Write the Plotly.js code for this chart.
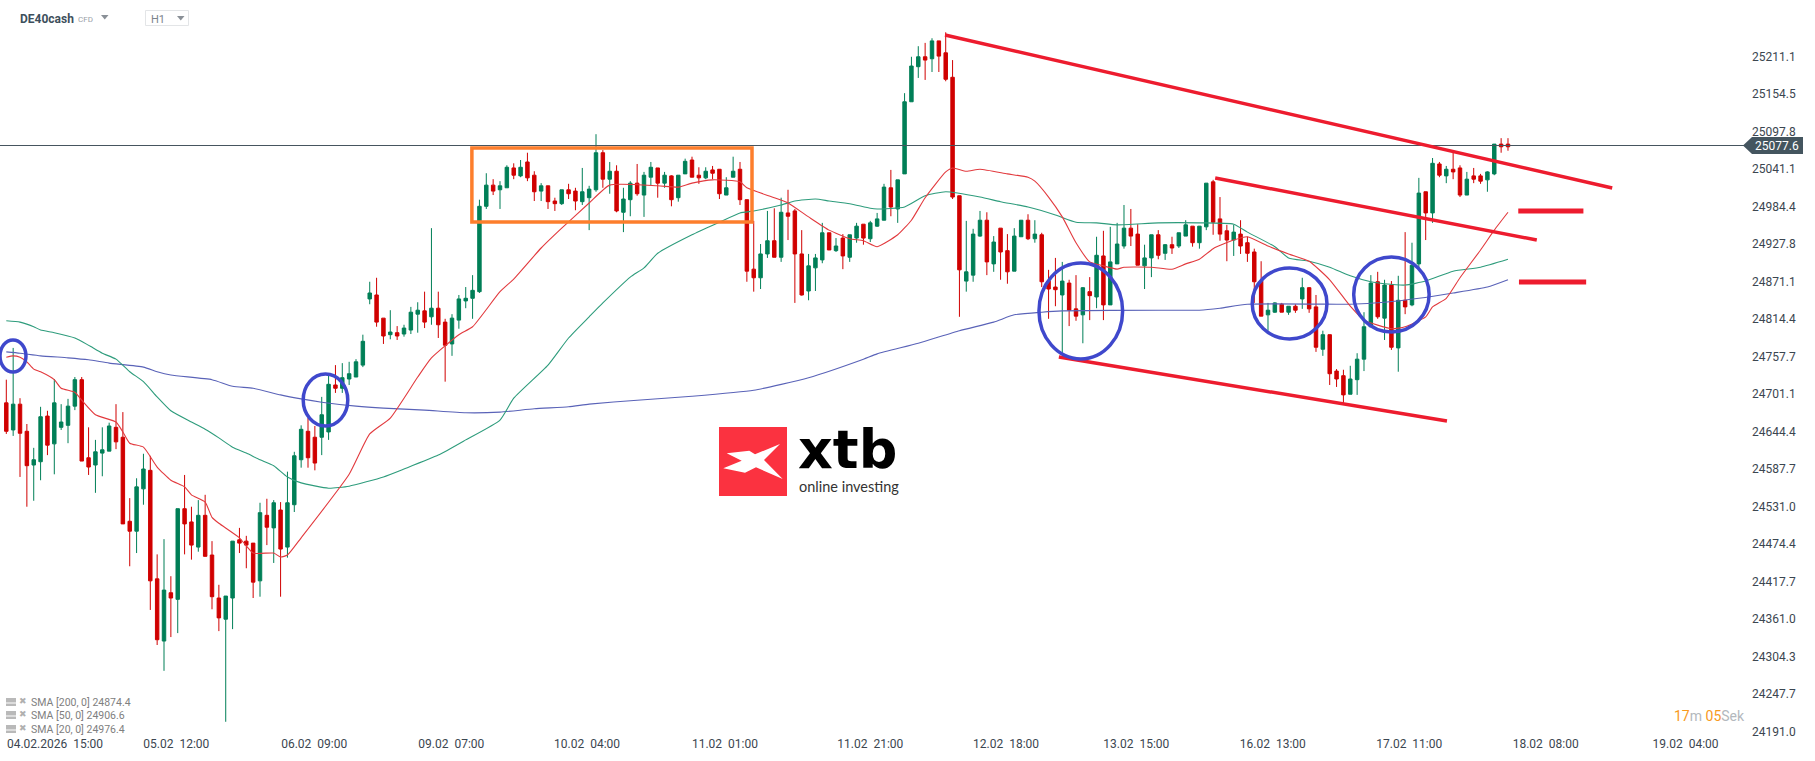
<!DOCTYPE html>
<html><head><meta charset="utf-8">
<script src="https://cdn.plot.ly/plotly-3.0.1.min.js"></script>
<style>html,body{margin:0;padding:0;background:#fff;overflow:hidden}#chart{width:1815px;height:761px}</style>
</head><body><div id="chart"></div>
<script>
const candleOpen=[24688,24647,24686,24645,24594,24599,24668,24626,24651,24654,
24683,24723,24605,24594,24612,24615,24651,24636,24509,24494,
24558,24586,24422,24328,24401,24391,24528,24508,24470,24518,
24458,24393,24361,24393,24481,24479,24476,24419,24518,24499,
24526,24470,24534,24602,24645,24636,24636,24644,24715,24710,
24724,24727,24745,24845,24851,24816,24791,24794,24792,24798,
24822,24827,24818,24831,24810,24777,24813,24842,24846,24856,
24985,25017,25010,25013,25043,25031,25052,25032,25008,25016,
24993,24989,25010,25008,24992,24998,25010,25066,25026,25038,
24976,24995,25020,25002,25029,25043,25020,25031,24998,25034,
25055,25032,25028,25040,25041,25002,25029,25041,24995,24890,
24877,24913,24933,24908,24975,24978,24913,24857,24892,24904,
24945,24918,24937,24908,24937,24958,24936,24955,24964,25013,
24981,25034,25143,25196,25211,25208,25235,25217,25180,25001,
24872,24881,24940,24964,24898,24952,24918,24887,24939,24964,
24936,24942,24872,24863,24851,24869,24830,24821,24856,24848,
24910,24836,24898,24925,24952,24943,24895,24907,24942,24914,
24927,24925,24940,24955,24930,24954,25022,24966,24948,24934,
24943,24930,24916,24872,24821,24825,24837,24825,24834,24845,
24862,24833,24769,24791,24736,24729,24701,24723,24754,24803,
24871,24816,24866,24771,24843,24836,24898,25007,24975,25049,
25031,25041,25043,25002,25031,25031,25025,25034,25079,25079];
const candleClose=[24645,24686,24642,24593,24602,24667,24624,24688,24659,24683,
24723,24600,24591,24614,24617,24653,24629,24505,24494,24561,
24588,24419,24330,24405,24393,24528,24505,24473,24518,24456,
24395,24363,24396,24479,24476,24473,24417,24522,24500,24537,
24467,24537,24608,24648,24605,24597,24670,24716,24710,24726,
24732,24750,24781,24854,24810,24789,24795,24789,24801,24825,
24828,24810,24831,24806,24775,24816,24845,24846,24858,24985,
25017,25008,25016,25044,25032,25044,25028,25007,25016,24992,
24989,25010,25004,24993,25007,25011,25066,25026,25038,24978,
24996,25020,25004,25032,25044,25020,25032,24995,25032,25053,
25029,25028,25038,25035,25004,25013,25038,24995,24887,24877,
24913,24933,24908,24976,24970,24913,24851,24895,24907,24945,
24919,24925,24910,24942,24955,24937,24960,24966,25014,24984,
25025,25143,25197,25211,25206,25235,25212,25177,24999,24889,
24886,24943,24964,24901,24931,24916,24886,24940,24964,24936,
24943,24871,24860,24859,24872,24828,24819,24862,24850,24911,
24836,24901,24928,24952,24940,24896,24907,24942,24911,24927,
24922,24945,24957,24930,24955,25020,24961,24943,24934,24946,
24925,24914,24871,24819,24828,24839,24825,24834,24828,24862,
24830,24772,24791,24732,24724,24700,24724,24754,24803,24869,
24818,24866,24772,24843,24833,24896,25005,24975,25050,25032,
25041,25037,25002,25026,25026,25023,25037,25079,25075,25075];
const candleHigh=[24723,24771,24695,24656,24620,24682,24676,24724,24686,24694,
24727,24727,24651,24632,24651,24658,24686,24674,24544,24574,
24611,24608,24459,24482,24426,24528,24579,24531,24541,24549,
24479,24413,24396,24479,24499,24487,24476,24537,24543,24541,
24538,24584,24614,24654,24665,24653,24697,24729,24745,24748,
24750,24754,24791,24871,24877,24816,24828,24804,24806,24833,
24840,24856,24952,24856,24815,24822,24851,24863,24881,24995,
25035,25026,25023,25047,25050,25055,25066,25038,25020,25016,
24998,25010,25019,25013,25043,25016,25094,25070,25052,25047,
25013,25023,25049,25037,25052,25043,25037,25032,25032,25057,
25060,25044,25044,25046,25041,25029,25060,25052,24995,24963,
24928,24978,24982,24998,25010,24981,24949,24913,24913,24960,
24945,24937,24943,24942,24960,24958,24963,24975,25019,25040,
25025,25156,25211,25227,25232,25239,25235,25248,25206,25001,
24963,24951,24978,24976,24940,24952,24943,24952,24964,24973,
24964,24945,24889,24907,24901,24874,24881,24863,24878,24939,
24948,24954,24960,24987,24981,24958,24927,24942,24949,24928,
24939,24945,24964,24955,24955,25020,25025,24999,24957,24957,
24964,24939,24921,24902,24839,24840,24839,24834,24837,24877,
24863,24851,24797,24791,24739,24738,24744,24763,24825,24881,
24886,24874,24872,24880,24946,24930,25028,25007,25058,25052,
25046,25066,25047,25037,25043,25034,25038,25079,25088,25088];
const candleLow=[24641,24638,24576,24531,24540,24571,24609,24580,24647,24627,
24677,24600,24579,24552,24577,24615,24618,24505,24441,24461,
24534,24375,24322,24283,24334,24340,24459,24451,24463,24456,
24376,24343,24206,24346,24461,24438,24393,24395,24473,24446,
24395,24454,24523,24590,24590,24586,24609,24632,24703,24703,
24715,24727,24742,24837,24803,24777,24784,24783,24788,24792,
24794,24801,24806,24786,24720,24759,24800,24831,24815,24854,
24981,25002,24981,25013,25026,25029,25023,24993,24993,24981,
24978,24987,24996,24979,24987,24949,25007,25013,25004,24976,
24946,24970,25001,24969,25016,24998,25013,24985,24992,25034,
25029,25019,25026,25026,24996,25002,25029,24987,24871,24856,
24860,24907,24908,24901,24934,24839,24850,24843,24857,24899,
24919,24916,24890,24901,24930,24927,24931,24954,24964,24970,
24960,25034,25143,25179,25176,25188,25188,25174,24996,24818,
24856,24871,24939,24881,24886,24874,24868,24887,24939,24934,
24930,24863,24815,24834,24763,24804,24812,24778,24813,24831,
24813,24836,24898,24921,24925,24896,24860,24878,24905,24904,
24913,24922,24940,24924,24921,24949,24942,24933,24902,24910,
24913,24901,24839,24819,24797,24824,24825,24821,24824,24830,
24824,24765,24759,24715,24712,24686,24701,24700,24736,24803,
24815,24783,24768,24735,24822,24834,24890,24934,24960,25029,
25020,25026,24999,25002,25020,25019,25007,25032,25066,25069];
const candleIndex=candleOpen.map((_,i)=>i);

const sma200Index=[0,2,5,9,12,15,20,22,24,30,33,36,40,43,46,51,55,61,67,72,77,82,85,92,100,109,117,125,127,133,139,144,147,151,154,168,174,177,181,194,196,201,206,211,216,219];
const sma200Value=[24765,24763,24759,24756,24753,24748,24742,24735,24730,24723,24713,24710,24700,24694,24689,24683,24680,24677,24673,24674,24679,24682,24686,24692,24698,24707,24726,24754,24762,24778,24797,24810,24821,24825,24827,24828,24828,24831,24837,24837,24837,24840,24846,24854,24863,24874];

const sma50Index=[0,2,4,5,7,10,12,14,16,18,20,22,24,27,29,31,33,35,37,39,41,43,47,50,55,58,63,67,72,74,79,82,85,87,91,93,95,100,104,107,109,113,115,118,120,123,126,127,131,134,137,142,145,149,153,156,159,162,168,174,179,181,185,187,190,193,196,199,201,204,207,211,215,219];
const sma50Value=[24812,24810,24803,24798,24794,24786,24775,24763,24754,24735,24720,24697,24676,24659,24648,24635,24621,24612,24602,24593,24576,24567,24559,24562,24576,24588,24609,24632,24662,24695,24745,24786,24818,24839,24878,24892,24914,24942,24961,24975,24978,24987,24993,24996,24993,24989,24982,24981,24984,25001,25007,24999,24992,24984,24972,24961,24960,24957,24960,24960,24958,24946,24924,24907,24902,24893,24880,24871,24868,24866,24872,24887,24893,24905];

const sma20Index=[0,1,2,3,4,5,7,8,10,11,13,16,17,18,20,22,24,26,27,29,30,31,34,36,39,40,41,43,50,53,56,60,62,66,68,72,74,78,81,85,88,95,98,100,103,107,108,112,114,117,120,123,125,127,130,132,134,137,138,140,142,146,149,150,152,154,156,158,160,162,163,167,170,172,174,176,179,181,184,187,190,193,196,198,202,204,207,208,210,212,215,217,219];
const sma20Value=[24757,24759,24757,24750,24739,24735,24723,24710,24704,24692,24670,24659,24644,24627,24621,24591,24571,24561,24549,24538,24515,24506,24484,24461,24461,24455,24458,24484,24580,24641,24665,24727,24756,24791,24803,24856,24875,24922,24952,24990,25017,25016,25014,25020,25025,25022,25013,24998,24990,24969,24949,24936,24933,24924,24942,24964,24998,25037,25043,25038,25041,25034,25029,25023,24999,24969,24930,24901,24895,24890,24893,24893,24890,24898,24905,24921,24934,24939,24925,24913,24902,24874,24834,24813,24800,24803,24818,24833,24846,24877,24919,24949,24976];

const priceTicks=[25211.1,25154.5,25097.8,25041.1,24984.4,24927.8,24871.1,24814.4,24757.7,24701.1,24644.4,24587.7,24531.0,24474.4,24417.7,24361.0,24304.3,24247.7,24191.0];
const timeTickIndex=[7.1,24.8,44.9,64.9,84.7,104.8,126,145.8,164.8,184.7,204.6,224.5,244.9];
const timeTickText=['04.02.2026','05.02','06.02','09.02','10.02','11.02','11.02','12.02','13.02','16.02','17.02','18.02','19.02'];
const timeTickHour=['15:00','12:00','09:00','07:00','04:00','01:00','21:00','18:00','15:00','13:00','11:00','08:00','04:00'];
const lastPrice=25077.6;

// drawn annotations, in candle index / price units
const trendLines=[[136.9,25244,234.2,25012.7],[176.3,25027.8,223.2,24934.1],[153.5,24757.3,210.1,24660.5]];
const levelMarks=[[220.5,230,24977.9],[220.6,230.4,24870.6]];
const circles=[[-0.92,2.87,24734.6,24782.9],[43.3,49.8,24653,24731.6],[150.6,162.8,24754.2,24899.3],[181.7,192.6,24784.5,24891.8],[196.5,207.5,24795,24908.4]];
const rangeBox=[67.9,108.75,24961.3,25073.1];

const PW=1751,PH=735;
const X=p=>p/PW, Y=p=>1-p/PH;
const textC='#3b4650';

const shapes=[];
shapes.push({type:'line',xref:'paper',yref:'paper',x0:0,x1:X(1745),y0:Y(145.5),y1:Y(145.5),line:{color:'#46555f',width:1}});
trendLines.forEach(t=>shapes.push({type:'line',xref:'x',yref:'y',x0:t[0],y0:t[1],x1:t[2],y1:t[3],line:{color:'#ed1c2e',width:3.5}}));
levelMarks.forEach(t=>shapes.push({type:'line',xref:'x',yref:'y',x0:t[0],x1:t[1],y0:t[2],y1:t[2],line:{color:'#ed1c2e',width:5}}));
circles.forEach(c=>shapes.push({type:'circle',xref:'x',yref:'y',x0:c[0],x1:c[1],y0:c[2],y1:c[3],line:{color:'#3f48cc',width:3.5}}));
shapes.push({type:'rect',xref:'x',yref:'y',x0:rangeBox[0],x1:rangeBox[1],y0:rangeBox[2],y1:rangeBox[3],line:{color:'#fd7e2c',width:3.5}});
// price tag
shapes.push({type:'path',xref:'paper',yref:'paper',fillcolor:'#44555f',line:{width:0},
 path:`M ${X(1743)} ${Y(145.5)} L ${X(1752)} ${Y(137)} L ${X(1803)} ${Y(137)} L ${X(1803)} ${Y(154)} L ${X(1752)} ${Y(154)} Z`});
// logo
shapes.push({type:'rect',xref:'paper',yref:'paper',x0:X(719),x1:X(787),y0:Y(496),y1:Y(427),fillcolor:'#fb3240',line:{width:0}});
const logoPts=[[726.7,453.3],[749.3,450.7],[755,454.3],[780,444],[764,460],[782.7,479],[756,467.3],[745,472.7],[723.3,468.3],[741.7,460.7]];
shapes.push({type:'path',xref:'paper',yref:'paper',fillcolor:'#ffffff',line:{width:0},path:'M '+logoPts.map(p=>X(p[0])+' '+Y(p[1])).join(' L ')+' Z'});
// header widgets
function tri(x0,x1,y0,y1){return {type:'path',xref:'paper',yref:'paper',fillcolor:'#8a9097',line:{width:0},path:`M ${X(x0)} ${Y(y0)} L ${X(x1)} ${Y(y0)} L ${X((x0+x1)/2)} ${Y(y1)} Z`};}
shapes.push(tri(101,108.5,15,19.5));
shapes.push({type:'rect',xref:'paper',yref:'paper',x0:X(145.5),x1:X(188.5),y0:Y(25.5),y1:Y(10.5),line:{color:'#e3e5e7',width:1},fillcolor:'#fff'});
shapes.push(tri(177,184.5,16,20.5));
// legend icons
[702,715,729].forEach(y=>{
  shapes.push({type:'rect',xref:'paper',yref:'paper',x0:X(6),x1:X(16),y0:Y(y+4),y1:Y(y-4),fillcolor:'#b9b9b9',line:{width:0}});
  shapes.push({type:'line',xref:'paper',yref:'paper',x0:X(6),x1:X(16),y0:Y(y+1),y1:Y(y+1),line:{color:'#fff',width:1}});
});

function note(text,x,y,size,color,anchor,family,extra){
  return Object.assign({xref:'paper',yref:'paper',x:X(x),y:Y(y),text:text,showarrow:false,xanchor:anchor||'left',yanchor:'middle',
    font:{family:family||'Roboto',size:size,color:color},align:anchor||'left',borderpad:0,borderwidth:0},extra||{});
}
const legendNames=['SMA\u00A0[200,\u00A00]\u00A024874.4','SMA\u00A0[50,\u00A00]\u00A024906.6','SMA\u00A0[20,\u00A00]\u00A024976.4'];
const annotations=[
  note('<b>DE40cash</b>',20,19,12,'#3d4f5c'),
  note('CFD',78,19.5,8,'#9aa1a8'),
  note('H1',151,19.5,11,'#7c848c'),
  note(lastPrice.toFixed(1),1755,146,12,'#ffffff'),
  note('<b>xtb</b>',798,449,54,'#000000','left','DejaVu Sans'),
  note('online investing',799,486,14.5,'#333333','left','Lato'),
  note('<span style="color:#f89a1c">17</span><span style="color:#b3b8bd">m</span> <span style="color:#f89a1c">05</span><span style="color:#b3b8bd">Sek</span>',1745,716,14,'#b3b8bd','right')
];
[702,715,729].forEach((y,i)=>{
  annotations.push(note(legendNames[i],31,y,10.5,'#808080'));
  annotations.push(note('\u2716',19,y-1,9,'#b0b0b0','left','DejaVu Sans'));
});

const traces=[
 {type:'candlestick',x:candleIndex,open:candleOpen,high:candleHigh,low:candleLow,close:candleClose,
  increasing:{line:{color:'#007f57',width:1},fillcolor:'#007f57'},
  decreasing:{line:{color:'#d00000',width:1},fillcolor:'#d00000'},
  whiskerwidth:0,hoverinfo:'skip',showlegend:false},
 {type:'scatter',mode:'lines',x:sma200Index,y:sma200Value,line:{color:'#5a63b8',width:1.1,shape:'spline',smoothing:0.5},hoverinfo:'skip',showlegend:false},
 {type:'scatter',mode:'lines',x:sma50Index,y:sma50Value,line:{color:'#2e9c7c',width:1.1,shape:'spline',smoothing:0.5},hoverinfo:'skip',showlegend:false},
 {type:'scatter',mode:'lines',x:sma20Index,y:sma20Value,line:{color:'#e23a3e',width:1.1,shape:'spline',smoothing:0.5},hoverinfo:'skip',showlegend:false}
];
const layout={
 width:1815,height:761,margin:{l:0,r:1815-PW,t:0,b:761-PH,pad:0},
 paper_bgcolor:'#fff',plot_bgcolor:'#fff',showlegend:false,hovermode:false,dragmode:false,
 boxmode:'overlay',boxgap:0.28,
 xaxis:{type:'linear',range:[-0.9188,254.44],showgrid:false,zeroline:false,showline:false,ticks:'',
   tickmode:'array',tickvals:timeTickIndex,ticktext:timeTickText.map((d,i)=>d+'\u00A0\u00A0'+timeTickHour[i]),
   tickfont:{family:'Roboto',size:12,color:textC},rangeslider:{visible:false},fixedrange:true,tickangle:0},
 yaxis:{type:'linear',side:'right',range:[24186.0,25296.8],showgrid:false,zeroline:false,showline:false,ticks:'',
   tickmode:'array',tickvals:priceTicks,ticktext:priceTicks.map(v=>v.toFixed(1)),
   tickfont:{family:'Roboto',size:12,color:textC},fixedrange:true},
 shapes:shapes,annotations:annotations
};
Plotly.newPlot('chart',traces,layout,{displayModeBar:false,staticPlot:true});
</script></body></html>
